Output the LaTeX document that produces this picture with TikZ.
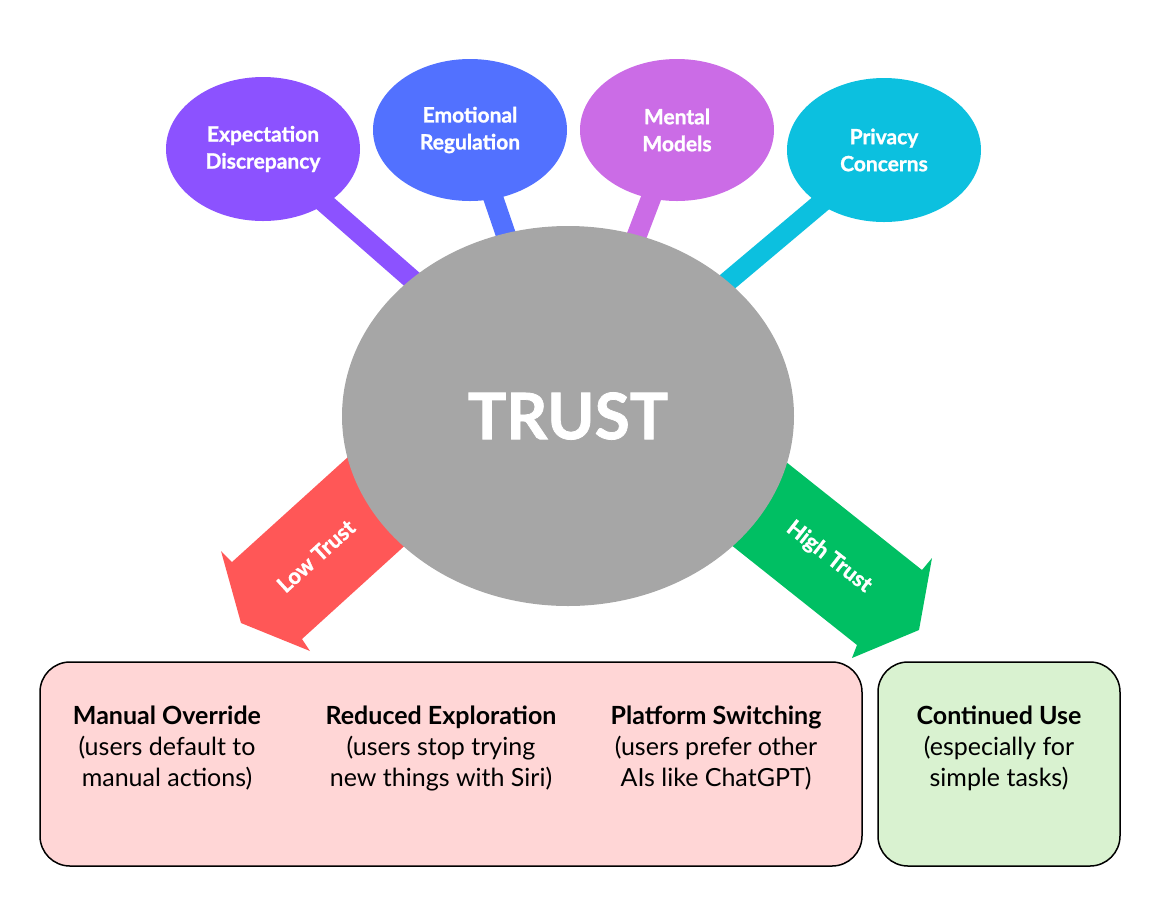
\documentclass[tikz,border=0pt]{standalone}
\usepackage{fontspec}
\setmainfont{Lato}
\newfontfamily\heavyfont{Lato}[BoldFeatures={FakeBold=1.2}]
\usetikzlibrary{shapes.geometric,backgrounds}
\definecolor{trustgray}{HTML}{A6A6A6}
\definecolor{expcol}{HTML}{8C52FF}
\definecolor{emocol}{HTML}{5271FF}
\definecolor{mencol}{HTML}{CB6CE6}
\definecolor{privcol}{HTML}{0CC0DF}
\definecolor{lowcol}{HTML}{FF5757}
\definecolor{highcol}{HTML}{00BF63}
\definecolor{lowbox}{HTML}{FFD6D6}
\definecolor{highbox}{HTML}{D9F2D0}

\begin{document}
\begin{tikzpicture}[x=0.5pt,y=-0.5pt,
    bubble/.style={ellipse, inner sep=0pt, minimum width=97pt, minimum height=71pt, text=white, align=center, font=\heavyfont\bfseries\fontsize{10.5}{13.5}\selectfont},
    stem/.style={line width=10pt},
    outcome/.style={draw, line width=0.75pt, rounded corners=15pt, minimum height=102pt},
    outtext/.style={align=center, font=\fontsize{12.5}{15.5}\selectfont},
    arrowlabel/.style={text=white, font=\heavyfont\bfseries\fontsize{11}{13}\selectfont}]
  \useasboundingbox (0,0) rectangle (1158,907);

  \node[ellipse, fill=trustgray, minimum width=226pt, minimum height=190pt, text=white, font=\heavyfont\bfseries\fontsize{32}{36}\selectfont] (trust) at (568,416) {TRUST};

  \node[bubble, fill=expcol, minimum height=72pt] (expect) at (263,149) {Expectation\\Discrepancy};
  \node[bubble, fill=emocol] (emotion) at (470,130) {Emotional\\Regulation};
  \node[bubble, fill=mencol] (mental) at (677,130) {Mental\\Models};
  \node[bubble, fill=privcol, minimum height=72pt] (privacy) at (884,150) {Privacy\\Concerns};

  \begin{pgfonlayer}{background}
    \draw[stem, expcol] (expect.center) -- (trust.center);
    \draw[stem, emocol] (emotion.center) -- (trust.center);
    \draw[stem, mencol] (mental.center) -- (trust.center);
    \draw[stem, privcol] (privacy.center) -- (trust.center);
    \fill[lowcol] (380,428) -- (232,562) -- (221,551) -- (241,623) -- (310,651) -- (302,639) -- (487,471) -- cycle;
    \fill[highcol] (727,415) -- (922,570) -- (932,558) -- (919,630) -- (852,658) -- (857,645) -- (662,490) -- cycle;
  \end{pgfonlayer}

  \node[arrowlabel, rotate=42] (lowlbl) at (316,556) {Low Trust};
  \node[arrowlabel, rotate=-38] (highlbl) at (829,557) {High Trust};

  \node[outcome, fill=lowbox, minimum width=411pt] (lowout) at (451,764) {};
  \node[outcome, fill=highbox, minimum width=121pt] (highout) at (999,764) {};

  \node[outtext] (manual) at (167,748) {\textbf{Manual Override}\\(users default to\\manual actions)};
  \node[outtext] (explore) at (441,748) {\textbf{Reduced Exploration}\\(users stop trying\\new things with Siri)};
  \node[outtext] (switch) at (716,748) {\textbf{Platform Switching}\\(users prefer other\\AIs like ChatGPT)};
  \node[outtext] (contin) at (999,748) {\textbf{Continued Use}\\(especially for\\simple tasks)};
\end{tikzpicture}
\end{document}
